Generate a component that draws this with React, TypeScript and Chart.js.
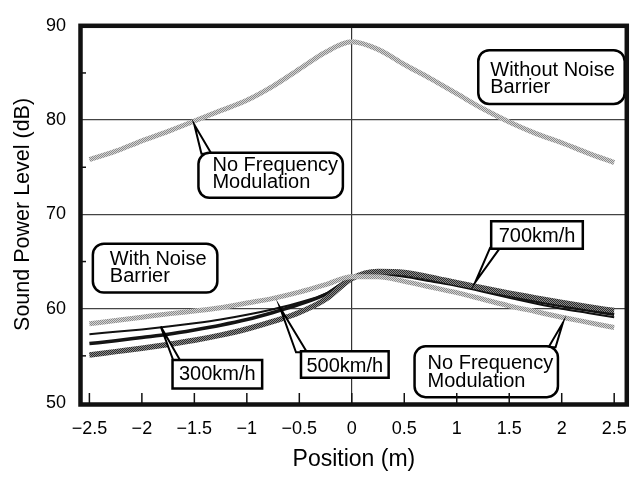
import React, { useEffect, useRef } from 'react';
import { Chart, registerables } from 'chart.js';

Chart.register(...registerables);

// ---- data ----
const positions = [-2.5, -2.25, -2, -1.75, -1.5, -1.25, -1, -0.75, -0.5, -0.25, 0, 0.25, 0.5, 0.75, 1, 1.25, 1.5, 1.75, 2, 2.25, 2.5];

const withoutBarrier = [75.8, 76.7, 77.8, 78.8, 79.9, 81.0, 82.1, 83.6, 85.4, 87.2, 88.3, 87.5, 85.9, 84.4, 82.8, 81.2, 79.8, 78.6, 77.6, 76.5, 75.5];
const barrierNoFM = [58.4, 58.75, 59.1, 59.45, 59.75, 60.1, 60.6, 61.1, 61.75, 62.55, 63.4, 63.4, 62.9, 62.3, 61.7, 61.0, 60.3, 59.7, 59.1, 58.55, 58.0];
const barrier300 = [57.3, 57.55, 57.8, 58.1, 58.45, 58.85, 59.35, 59.95, 60.65, 61.6, 63.3, 63.6, 63.4, 62.9, 62.4, 61.8, 61.15, 60.55, 60.0, 59.55, 59.1];
const barrier500 = [56.3, 56.6, 56.95, 57.3, 57.75, 58.25, 58.85, 59.6, 60.45, 61.5, 63.25, 63.8, 63.65, 63.15, 62.6, 62.05, 61.4, 60.8, 60.3, 59.85, 59.4];
const barrier700 = [55.1, 55.45, 55.8, 56.2, 56.65, 57.2, 57.85, 58.65, 59.6, 61.0, 63.2, 63.95, 63.85, 63.35, 62.75, 62.2, 61.65, 61.15, 60.65, 60.2, 59.8];

const xTickValues = [-2.5, -2, -1.5, -1, -0.5, 0, 0.5, 1, 1.5, 2, 2.5];
const xTickLabels = ['\u22122.5', '\u22122', '\u22121.5', '\u22121', '\u22120.5', '0', '0.5', '1', '1.5', '2', '2.5'];
const yTickValues = [50, 60, 70, 80, 90];
const yMinorTicks = [55, 65, 75, 85];
const yGridValues = [60, 70, 80];

const xTitle = 'Position (m)';
const yTitle = 'Sound Power Level (dB)';

type Ann = {
  lines: string[];
  x0: number; x1: number; yTop: number; yBot: number;
  rounded: boolean;
  align: 'left' | 'center';
  padX: number;
  gap: number;
  dy: number;
  tip?: [number, number];
  base?: [number, number];
};

// annotation boxes (in data units)
const annotations: Ann[] = [
  { lines: ['Without Noise', 'Barrier'], x0: 1.205, x1: 2.6, yTop: 87.41, yBot: 81.71, rounded: true, align: 'left', padX: 12, gap: 17, dy: 0 },
  { lines: ['No Frequency', 'Modulation'], x0: -1.461, x1: -0.085, yTop: 76.53, yBot: 71.76, rounded: true, align: 'left', padX: 14, gap: 17, dy: -3, tip: [-1.5, 79.5], base: [3, 13] },
  { lines: ['With Noise', 'Barrier'], x0: -2.467, x1: -1.281, yTop: 66.89, yBot: 61.71, rounded: true, align: 'left', padX: 17, gap: 17.5, dy: -2 },
  { lines: ['300km/h'], x0: -1.708, x1: -0.854, yTop: 54.56, yBot: 51.55, rounded: false, align: 'center', padX: 0, gap: 0, dy: -1, tip: [-1.82, 58.1], base: [1, 8] },
  { lines: ['500km/h'], x0: -0.484, x1: 0.351, yTop: 55.49, yBot: 52.69, rounded: false, align: 'center', padX: 0, gap: 0, dy: 0, tip: [-0.683, 60.1], base: [-5, 6] },
  { lines: ['700km/h'], x0: 1.328, x1: 2.201, yTop: 69.27, yBot: 66.37, rounded: false, align: 'center', padX: 0, gap: 0, dy: 0, tip: [1.176, 62.8], base: [-1, 9] },
  { lines: ['No Frequency', 'Modulation'], x0: 0.598, x1: 1.964, yTop: 56.01, yBot: 50.62, rounded: true, align: 'left', padX: 13, gap: 18.5, dy: -1, tip: [2.011, 58.5], base: [134, 141] },
];

const FONT = '"Liberation Sans", Arial, sans-serif';

function makePattern(dark: string, light: string): CanvasPattern | string {
  const c = document.createElement('canvas');
  c.width = 4; c.height = 4;
  const g = c.getContext('2d');
  if (!g) return dark;
  g.fillStyle = light;
  g.fillRect(0, 0, 4, 4);
  g.fillStyle = dark;
  for (let i = 0; i < 4; i++) {
    g.fillRect(i, i, 1, 1);
    g.fillRect((i + 2) % 4, i, 1, 1);
  }
  const p = g.createPattern(c, 'repeat');
  return p || dark;
}

const framePlugin = {
  id: 'frame',
  afterDraw(chart: any) {
    const { ctx, chartArea: a, scales } = chart;
    const x = scales.x, y = scales.y;
    ctx.save();
    ctx.strokeStyle = '#111';
    ctx.lineWidth = 1.5;
    for (const v of xTickValues) {
      const px = x.getPixelForValue(v);
      ctx.beginPath();
      ctx.moveTo(px, a.bottom);
      ctx.lineTo(px, a.bottom - 10);
      ctx.stroke();
    }
    for (const v of yMinorTicks) {
      const py = y.getPixelForValue(v);
      ctx.beginPath();
      ctx.moveTo(a.left, py);
      ctx.lineTo(a.left + 5, py);
      ctx.stroke();
    }
    ctx.lineWidth = 4.5;
    ctx.strokeStyle = '#111';
    ctx.strokeRect(a.left - 0.5, a.top, a.right - a.left + 0.5, a.bottom - a.top + 1.5);
    ctx.restore();
  },
};

const annotationPlugin = {
  id: 'annots',
  afterDatasetsDraw(chart: any) {
    const { ctx, scales } = chart;
    const x = scales.x, y = scales.y;
    ctx.save();
    for (const a of annotations) {
      const L = x.getPixelForValue(a.x0);
      const R = x.getPixelForValue(a.x1);
      const T = y.getPixelForValue(a.yTop);
      const B = y.getPixelForValue(a.yBot);
      if (a.tip && a.base) {
        const tx = x.getPixelForValue(a.tip[0]);
        const ty = y.getPixelForValue(a.tip[1]);
        const by = ty < T ? T + 1 : B - 1;
        ctx.beginPath();
        ctx.moveTo(L + a.base[0], by);
        ctx.lineTo(tx, ty);
        ctx.lineTo(L + a.base[1], by);
        ctx.closePath();
        ctx.fillStyle = '#fff';
        ctx.fill();
        ctx.lineWidth = 2;
        ctx.strokeStyle = '#000';
        ctx.lineJoin = 'miter';
        ctx.stroke();
      }
      ctx.beginPath();
      if (a.rounded) (ctx as any).roundRect(L, T, R - L, B - T, 11);
      else ctx.rect(L, T, R - L, B - T);
      ctx.fillStyle = '#fff';
      ctx.fill();
      ctx.lineWidth = 2.5;
      ctx.strokeStyle = '#000';
      ctx.stroke();

      ctx.fillStyle = '#000';
      ctx.font = '20px ' + FONT;
      ctx.textBaseline = 'alphabetic';
      ctx.textAlign = a.align === 'left' ? 'left' : 'center';
      const mid = (T + B) / 2;
      const n = a.lines.length;
      a.lines.forEach((s, i) => {
        const by = mid - ((n - 1) * a.gap) / 2 + i * a.gap + 7.2 + a.dy;
        const bx = a.align === 'left' ? L + a.padX : (L + R) / 2;
        ctx.fillText(s, bx, by);
      });
    }
    ctx.restore();
  },
};

export default function App() {
  const ref = useRef<HTMLCanvasElement | null>(null);

  useEffect(() => {
    if (!ref.current) return;
    const lightPat = makePattern('#8a8a8a', '#d4d4d4');
    const darkPat = makePattern('#2a2a2a', '#8c8c8c');

    const mk = (data: number[]) => positions.map((p, i) => ({ x: p, y: data[i] }));

    const chart = new Chart(ref.current, {
      type: 'line',
      data: {
        datasets: [
          { label: 'Without Noise Barrier', data: mk(withoutBarrier), borderColor: lightPat as any, borderWidth: 5, pointRadius: 0, cubicInterpolationMode: 'monotone' },
          { label: 'With Barrier, No FM', data: mk(barrierNoFM), borderColor: lightPat as any, borderWidth: 5, pointRadius: 0, cubicInterpolationMode: 'monotone' },
          { label: '700km/h', data: mk(barrier700), borderColor: darkPat as any, borderWidth: 5.5, pointRadius: 0, cubicInterpolationMode: 'monotone' },
          { label: '500km/h', data: mk(barrier500), borderColor: '#141414', borderWidth: 3.5, pointRadius: 0, cubicInterpolationMode: 'monotone' },
          { label: '300km/h', data: mk(barrier300), borderColor: '#111', borderWidth: 2, pointRadius: 0, cubicInterpolationMode: 'monotone' },
        ],
      },
      options: {
        animation: false,
        responsive: false,
        devicePixelRatio: 1,
        layout: { padding: { left: 0, right: 13, top: 17, bottom: 0 } },
        plugins: { legend: { display: false }, tooltip: { enabled: false } },
        scales: {
          x: {
            type: 'linear',
            min: -2.58,
            max: 2.62,
            afterBuildTicks: (s: any) => { s.ticks = xTickValues.map((v) => ({ value: v })); },
            afterFit: (s: any) => { s.height = 74; },
            ticks: {
              color: '#000',
              font: { family: FONT, size: 18 },
              padding: 15,
              maxRotation: 0,
              autoSkip: false,
              callback: (v: any) => { const i = xTickValues.indexOf(Number(v)); return i >= 0 ? xTickLabels[i] : ''; },
            },
            grid: {
              drawTicks: false,
              lineWidth: 1.2,
              color: (c: any) => (c.tick && c.tick.value === 0 ? '#333' : 'rgba(0,0,0,0)'),
            },
            border: { display: false },
            title: { display: true, text: xTitle, color: '#000', font: { family: FONT, size: 23 }, padding: { top: 0, bottom: 4 } },
          },
          y: {
            type: 'linear',
            min: 50,
            max: 90,
            afterBuildTicks: (s: any) => { s.ticks = yTickValues.map((v) => ({ value: v })); },
            afterFit: (s: any) => { s.width = 81; },
            ticks: {
              color: '#000',
              font: { family: FONT, size: 18 },
              padding: 15,
              autoSkip: false,
              callback: (v: any) => String(v),
            },
            grid: {
              drawTicks: false,
              lineWidth: 1.3,
              color: (c: any) => (c.tick && yGridValues.includes(c.tick.value) ? '#444' : 'rgba(0,0,0,0)'),
            },
            border: { display: false },
            title: { display: true, text: yTitle, color: '#000', font: { family: FONT, size: 21.5 }, padding: { top: 10, bottom: 0 } },
          },
        },
      },
      plugins: [annotationPlugin, framePlugin],
    } as any);

    return () => chart.destroy();
  }, []);

  return (
    <div style={{ position: 'absolute', left: 0, top: 0, width: 642, height: 477, background: '#fff' }}>
      <canvas ref={ref} width={642} height={477} style={{ display: 'block', width: 642, height: 477 }} />
    </div>
  );
}
